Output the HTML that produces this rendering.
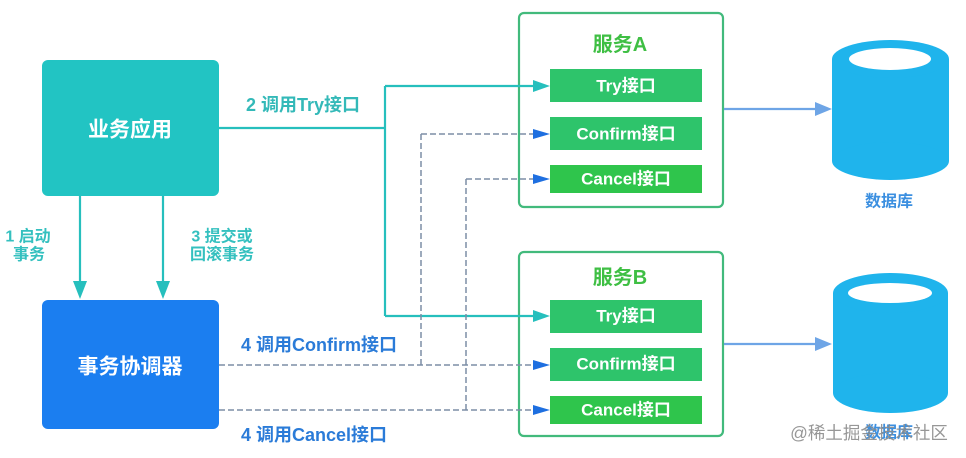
<!DOCTYPE html>
<html><head><meta charset="utf-8"><style>
html,body{margin:0;padding:0;background:#fff;}
svg{display:block;}
text{font-family:"Liberation Sans","Noto Sans CJK SC",sans-serif;font-weight:bold;}
</style></head><body>
<svg width="966" height="458" viewBox="0 0 966 458" xmlns="http://www.w3.org/2000/svg">
<rect width="966" height="458" fill="#fff"/>
<!-- Service boxes (drawn first so connectors pass over borders) -->
<rect x="519" y="13" width="204" height="194" rx="5" fill="none" stroke="#42ba7c" stroke-width="2.2"/>
<rect x="519" y="252" width="204" height="184" rx="5" fill="none" stroke="#42ba7c" stroke-width="2.2"/>

<!-- 业务应用 -->
<rect x="42" y="60" width="177" height="136" rx="6" fill="#22c4c3"/>
<text x="130" y="130" font-size="21" fill="#fff" text-anchor="middle" dominant-baseline="central">业务应用</text>
<!-- 事务协调器 -->
<rect x="42" y="300" width="177" height="129" rx="6" fill="#1b7ef0"/>
<text x="130" y="367" font-size="21" fill="#fff" text-anchor="middle" dominant-baseline="central">事务协调器</text>

<!-- vertical arrows -->
<g stroke="#26bfbd" stroke-width="2.2" fill="none">
<line x1="80" y1="196" x2="80" y2="285"/>
<line x1="163" y1="196" x2="163" y2="285"/>
</g>
<polygon points="73,281 87,281 80,299" fill="#26bfbd"/>
<polygon points="156,281 170,281 163,299" fill="#26bfbd"/>
<g font-size="16" fill="#34c0bf" text-anchor="middle" dominant-baseline="central">
<text x="28" y="237">1 启动</text>
<text x="29" y="255">事务</text>
<text x="222" y="237">3 提交或</text>
<text x="222" y="255">回滚事务</text>
</g>

<!-- Try lines -->
<g stroke="#26bfbd" stroke-width="2.2" fill="none">
<polyline points="219,128 385,128"/>
<polyline points="385,86 385,316"/>
<line x1="385" y1="86" x2="536" y2="86"/>
<line x1="385" y1="316" x2="536" y2="316"/>
</g>
<polygon points="533,80 550,86 533,92" fill="#26bfbd"/>
<polygon points="533,310 550,316 533,322" fill="#26bfbd"/>
<text x="303" y="105" font-size="18" fill="#33b9b8" text-anchor="middle" dominant-baseline="central">2 调用Try接口</text>

<!-- dashed lines -->
<g stroke="#7d8ea6" stroke-width="1.5" fill="none" stroke-dasharray="6,3">
<line x1="421" y1="134" x2="421" y2="365"/>
<line x1="421" y1="134" x2="536" y2="134"/>
<line x1="219" y1="365" x2="536" y2="365"/>
<line x1="466" y1="179" x2="466" y2="410"/>
<line x1="466" y1="179" x2="536" y2="179"/>
<line x1="219" y1="410" x2="536" y2="410"/>
</g>
<g fill="#1e6fe0">
<polygon points="533,129 550,134 533,139"/>
<polygon points="533,174 550,179 533,184"/>
<polygon points="533,360 550,365 533,370"/>
<polygon points="533,405 550,410 533,415"/>
</g>
<text x="319" y="345" font-size="18" fill="#2a7bd8" text-anchor="middle" dominant-baseline="central">4 调用Confirm接口</text>
<text x="314" y="435" font-size="18" fill="#2a7bd8" text-anchor="middle" dominant-baseline="central">4 调用Cancel接口</text>

<!-- Service A content -->
<text x="620" y="45" font-size="20" fill="#3fbf44" text-anchor="middle" dominant-baseline="central">服务A</text>
<rect x="550" y="69" width="152" height="33" fill="#2ec46b"/>
<rect x="550" y="117" width="152" height="33" fill="#2ec46b"/>
<rect x="550" y="165" width="152" height="28" fill="#2fc54c"/>
<g font-size="17" fill="#fff" text-anchor="middle" dominant-baseline="central">
<text x="626" y="86">Try接口</text>
<text x="626" y="134">Confirm接口</text>
<text x="626" y="179">Cancel接口</text>
</g>

<!-- Service B content -->
<text x="620" y="278" font-size="20" fill="#3fbf44" text-anchor="middle" dominant-baseline="central">服务B</text>
<rect x="550" y="300" width="152" height="33" fill="#2ec46b"/>
<rect x="550" y="348" width="152" height="33" fill="#2ec46b"/>
<rect x="550" y="396" width="152" height="28" fill="#2fc54c"/>
<g font-size="17" fill="#fff" text-anchor="middle" dominant-baseline="central">
<text x="626" y="316">Try接口</text>
<text x="626" y="364">Confirm接口</text>
<text x="626" y="410">Cancel接口</text>
</g>

<!-- DB arrows -->
<g stroke="#6ea5e6" stroke-width="2.2">
<line x1="724" y1="109" x2="818" y2="109"/>
<line x1="724" y1="344" x2="818" y2="344"/>
</g>
<polygon points="815,102 832,109 815,116" fill="#6ea5e6"/>
<polygon points="815,337 832,344 815,351" fill="#6ea5e6"/>

<!-- Cylinder A -->
<g fill="#1fb4ec">
<rect x="832" y="59" width="117" height="102"/>
<ellipse cx="890.5" cy="59" rx="58.5" ry="19"/>
<ellipse cx="890.5" cy="161" rx="58.5" ry="19"/>
</g>
<ellipse cx="890" cy="59" rx="41" ry="11" fill="#fff"/>
<text x="889" y="202" font-size="16" fill="#3b8fe0" text-anchor="middle" dominant-baseline="central">数据库</text>

<!-- Cylinder B -->
<g fill="#1fb4ec">
<rect x="833" y="293" width="115" height="100"/>
<ellipse cx="890.5" cy="293" rx="57.5" ry="20"/>
<ellipse cx="890.5" cy="393" rx="57.5" ry="20"/>
</g>
<ellipse cx="890" cy="293" rx="42" ry="10" fill="#fff"/>
<text x="889" y="433" font-size="16" fill="#3b8fe0" text-anchor="middle" dominant-baseline="central">数据库</text>
<text x="869" y="433" font-size="17.5" fill="#8c8c8c" fill-opacity="0.9" style="font-weight:normal" text-anchor="middle" dominant-baseline="central">@稀土掘金技术社区</text>
</svg>
</body></html>
